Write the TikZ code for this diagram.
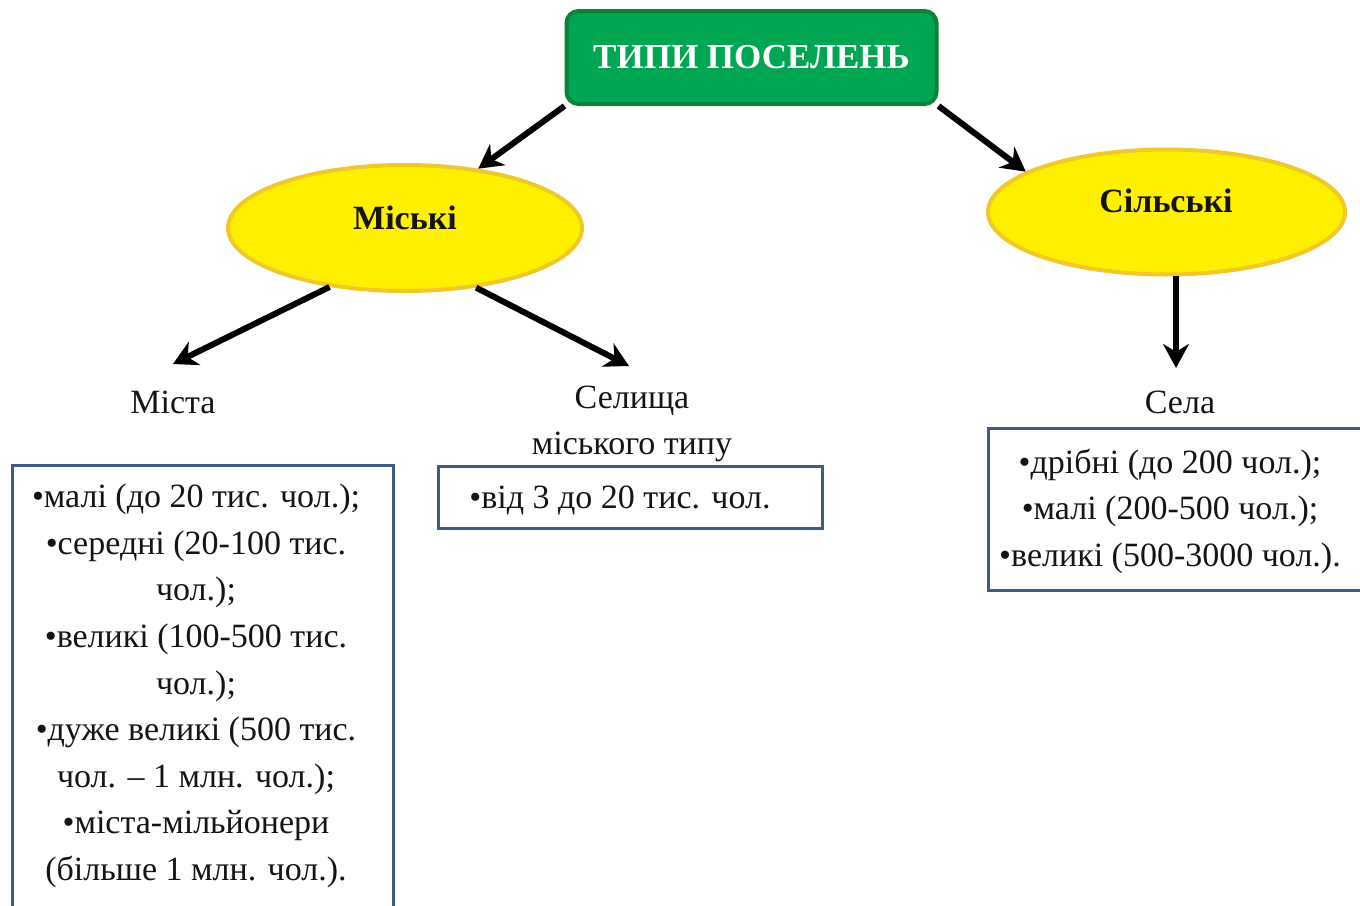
\documentclass[tikz,border=0pt]{standalone}
\usepackage{fontspec}
\setmainfont{Liberation Serif}
\usetikzlibrary{shapes.geometric,arrows.meta}
\definecolor{grfill}{RGB}{0,166,81}
\definecolor{grline}{RGB}{10,130,55}
\definecolor{yfill}{RGB}{255,240,0}
\definecolor{yline}{RGB}{240,200,40}
\definecolor{bline}{RGB}{62,92,132}
\definecolor{txt}{RGB}{20,20,20}
\tikzset{
  x=1pt,y=-1pt,
  topbox/.style={draw=grline,fill=grfill,line width=4pt,rounded corners=12pt,minimum width=370pt,minimum height=93pt,text=white,font=\fontsize{35}{38}\selectfont\bfseries},
  oval/.style={ellipse,draw=yline,fill=yfill,line width=4pt,inner sep=0pt},
  ovaltext/.style={text=txt,font=\fontsize{34}{38}\selectfont\bfseries},
  lbl/.style={text=txt,font=\fontsize{34}{46.5}\selectfont,align=center,inner sep=0pt},
  listbox/.style={draw=bline,line width=3pt,inner sep=0pt},
  conn/.style={line width=6pt,-{Stealth[length=24pt,width=26pt]},draw=black}
}
\begin{document}
\begin{tikzpicture}
\useasboundingbox (0,0) rectangle (1360,905);
\fill[white] (0,0) rectangle (1360,905);
% top
\node[topbox] (top) at (751.5,57.5) {ТИПИ ПОСЕЛЕНЬ};
% ovals
\node[oval,minimum width=354pt,minimum height=126pt] (ms) at (405,228) {};
\node[ovaltext] (mst) at (405,218) {Міські};
\node[oval,minimum width=357pt,minimum height=125pt] (sl) at (1166.5,212) {};
\node[ovaltext] (slt) at (1166,201) {Сільські};
% labels
\node[lbl] (mista) at (173,402) {Міста};
\node[lbl] (selyshcha) at (632,424) {Селища\\міського типу};
\node[lbl] (sela) at (1180,402) {Села};
% boxes
\node[listbox,minimum width=381pt,minimum height=448pt] (b1) at (202.5,689) {};
\node[lbl,font=\fontsize{34}{46.6}\selectfont] (b1t) at (196,686) {•малі (до 20 тис. чол.);\\•середні (20-100 тис.\\чол.);\\•великі (100-500 тис.\\чол.);\\•дуже великі (500 тис.\\чол. – 1 млн. чол.);\\•міста-мільйонери\\(більше 1 млн. чол.).};
\node[listbox,minimum width=384pt,minimum height=62pt] (b2) at (630,497) {};
\node[lbl] (b2t) at (620,500) {•від 3 до 20 тис. чол.};
\node[listbox,minimum width=376pt,minimum height=162pt] (b3) at (1176,509) {};
\node[lbl] (b3t) at (1170,511) {•дрібні (до 200 чол.);\\•малі (200-500 чол.);\\•великі (500-3000 чол.).};
% arrow end points
\coordinate (e1) at (173,364);
\coordinate (e2) at (629,366);
\coordinate (e3) at (1176,368);
\coordinate (s3) at (1176,276);
% connectors
\draw[conn] (top.south west) -- (ms.39);
\draw[conn] (top.south east) -- (sl.164);
\draw[conn] (ms.218) -- (e1);
\draw[conn] (ms.-40) -- (e2);
\draw[conn] (s3) -- (e3);
\end{tikzpicture}
\end{document}
